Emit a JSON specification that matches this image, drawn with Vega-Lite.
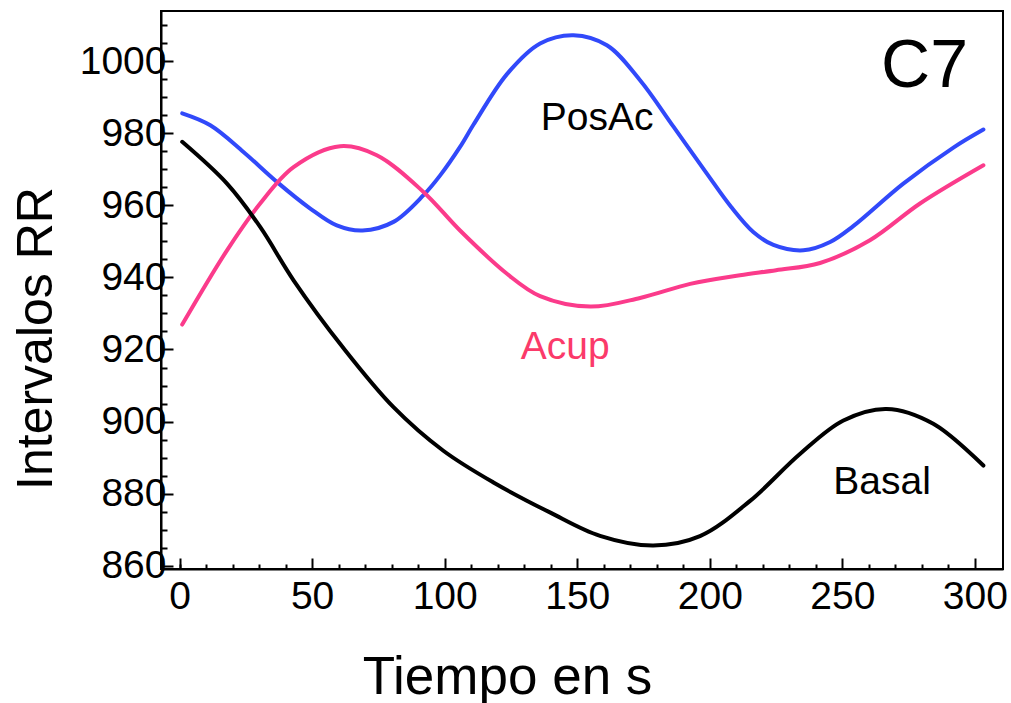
{
  "$schema": "https://vega.github.io/schema/vega-lite/v6.json",
  "width": 842,
  "height": 558,
  "autosize": "none",
  "padding": {"left": 161, "top": 11, "right": 8, "bottom": 134},
  "background": "white",
  "config": {
    "view": {"stroke": "black", "strokeWidth": 2},
    "font": "Liberation Sans",
    "axis": {
      "grid": false,
      "domainColor": "black",
      "domainWidth": 2,
      "tickColor": "black",
      "tickWidth": 2,
      "labelFont": "Liberation Sans",
      "labelFontSize": 39,
      "labelColor": "black",
      "labelOverlap": false,
      "labelFlush": false,
      "titleFont": "Liberation Sans",
      "titleFontSize": 50,
      "titleFontWeight": "normal",
      "titleColor": "black"
    }
  },
  "datasets": {
    "curves": [
      {"t": 1, "rr": 985.5, "serie": "PosAc"},
      {"t": 11.6, "rr": 982.2, "serie": "PosAc"},
      {"t": 24.1, "rr": 974.8, "serie": "PosAc"},
      {"t": 36.7, "rr": 966.5, "serie": "PosAc"},
      {"t": 49.3, "rr": 959.1, "serie": "PosAc"},
      {"t": 59.3, "rr": 954.4, "serie": "PosAc"},
      {"t": 69, "rr": 953.0, "serie": "PosAc"},
      {"t": 80.7, "rr": 955.4, "serie": "PosAc"},
      {"t": 92, "rr": 962.8, "serie": "PosAc"},
      {"t": 98.3, "rr": 968.3, "serie": "PosAc"},
      {"t": 105.8, "rr": 976.2, "serie": "PosAc"},
      {"t": 110.9, "rr": 982.4, "serie": "PosAc"},
      {"t": 123.5, "rr": 996.4, "serie": "PosAc"},
      {"t": 136, "rr": 1004.9, "serie": "PosAc"},
      {"t": 148.6, "rr": 1007.2, "serie": "PosAc"},
      {"t": 161.2, "rr": 1004.4, "serie": "PosAc"},
      {"t": 173.7, "rr": 994.7, "serie": "PosAc"},
      {"t": 186.3, "rr": 981.8, "serie": "PosAc"},
      {"t": 198.9, "rr": 968.8, "serie": "PosAc"},
      {"t": 208, "rr": 959.6, "serie": "PosAc"},
      {"t": 216.4, "rr": 952.6, "serie": "PosAc"},
      {"t": 224, "rr": 949.0, "serie": "PosAc"},
      {"t": 235.3, "rr": 947.5, "serie": "PosAc"},
      {"t": 245.4, "rr": 949.8, "serie": "PosAc"},
      {"t": 254.1, "rr": 954.2, "serie": "PosAc"},
      {"t": 273, "rr": 966.0, "serie": "PosAc"},
      {"t": 291.9, "rr": 976.0, "serie": "PosAc"},
      {"t": 303.2, "rr": 981.0, "serie": "PosAc"},
      {"t": 1, "rr": 926.9, "serie": "Acup"},
      {"t": 17.9, "rr": 947.5, "serie": "Acup"},
      {"t": 30.4, "rr": 960.5, "serie": "Acup"},
      {"t": 43, "rr": 970.6, "serie": "Acup"},
      {"t": 60.6, "rr": 976.4, "serie": "Acup"},
      {"t": 74.4, "rr": 973.9, "serie": "Acup"},
      {"t": 92, "rr": 963.7, "serie": "Acup"},
      {"t": 105.8, "rr": 953.0, "serie": "Acup"},
      {"t": 123.5, "rr": 941.0, "serie": "Acup"},
      {"t": 136, "rr": 934.8, "serie": "Acup"},
      {"t": 154.9, "rr": 931.9, "serie": "Acup"},
      {"t": 173.7, "rr": 934.3, "serie": "Acup"},
      {"t": 192.6, "rr": 938.2, "serie": "Acup"},
      {"t": 211.4, "rr": 940.6, "serie": "Acup"},
      {"t": 225, "rr": 942.0, "serie": "Acup"},
      {"t": 241.6, "rr": 944.0, "serie": "Acup"},
      {"t": 260.4, "rr": 950.3, "serie": "Acup"},
      {"t": 279.3, "rr": 960.5, "serie": "Acup"},
      {"t": 303.2, "rr": 971.1, "serie": "Acup"},
      {"t": 1, "rr": 977.6, "serie": "Basal"},
      {"t": 17.9, "rr": 966.0, "serie": "Basal"},
      {"t": 30.4, "rr": 954.0, "serie": "Basal"},
      {"t": 43, "rr": 939.2, "serie": "Basal"},
      {"t": 61.8, "rr": 920.4, "serie": "Basal"},
      {"t": 80.7, "rr": 904.0, "serie": "Basal"},
      {"t": 99.5, "rr": 891.9, "serie": "Basal"},
      {"t": 118.4, "rr": 883.1, "serie": "Basal"},
      {"t": 139.7, "rr": 874.8, "serie": "Basal"},
      {"t": 158.6, "rr": 868.3, "serie": "Basal"},
      {"t": 178.7, "rr": 865.6, "serie": "Basal"},
      {"t": 196.3, "rr": 868.2, "serie": "Basal"},
      {"t": 215.2, "rr": 878.0, "serie": "Basal"},
      {"t": 234, "rr": 891.0, "serie": "Basal"},
      {"t": 250.4, "rr": 900.3, "serie": "Basal"},
      {"t": 266.7, "rr": 903.5, "serie": "Basal"},
      {"t": 284.3, "rr": 899.4, "serie": "Basal"},
      {"t": 303.2, "rr": 887.8, "serie": "Basal"}
    ],
    "labels": [
      {"label": "PosAc", "t": 157.5, "rr": 984.2},
      {"label": "Acup", "t": 145.5, "rr": 920.6},
      {"label": "Basal", "t": 265, "rr": 883.3},
      {"label": "C7", "t": 281, "rr": 998.3}
    ]
  },
  "layer": [
    {
      "data": {"name": "curves"},
      "mark": {"type": "line", "interpolate": "catmull-rom", "strokeWidth": 4, "strokeCap": "round", "clip": true},
      "encoding": {
        "x": {
          "field": "t", "type": "quantitative",
          "scale": {"domain": [-7, 310.6], "nice": false, "zero": false},
          "axis": {
            "orient": "bottom",
            "title": "Tiempo en s",
            "values": [0, 50, 100, 150, 200, 250, 300],
            "format": "d",
            "tickSize": -11,
            "labelPadding": 19,
            "titleFontSize": 53,
            "titleX": 346,
            "titleY": 124,
            "titleAlign": "center",
            "titleBaseline": "alphabetic"
          }
        },
        "y": {
          "field": "rr", "type": "quantitative",
          "scale": {"domain": [859.1, 1013.9], "nice": false, "zero": false},
          "axis": {
            "orient": "left",
            "title": "Intervalos RR",
            "values": [860, 880, 900, 920, 940, 960, 980, 1000],
            "format": "d",
            "tickSize": -12,
            "labelPadding": 7,
            "titleX": -110,
            "titleY": 327,
            "titleAngle": -90,
            "titleAlign": "center",
            "titleBaseline": "alphabetic"
          }
        },
        "color": {
          "field": "serie", "type": "nominal",
          "scale": {"domain": ["PosAc", "Acup", "Basal"], "range": ["#3149fa", "#fb3b8b", "#000000"]},
          "legend": null
        }
      }
    },
    {
      "data": {"name": "labels"},
      "mark": {"type": "text", "font": "Liberation Sans", "align": "center", "baseline": "middle"},
      "encoding": {
        "x": {
          "field": "t", "type": "quantitative",
          "axis": {
            "orient": "bottom",
            "title": null,
            "labels": false,
            "domain": false,
            "values": [0, 10, 20, 30, 40, 60, 70, 80, 90, 110, 120, 130, 140, 160, 170, 180, 190, 210, 220, 230, 240, 260, 270, 280, 290],
            "tickSize": -5
          }
        },
        "y": {
          "field": "rr", "type": "quantitative",
          "axis": {
            "orient": "left",
            "title": null,
            "labels": false,
            "domain": false,
            "values": [865, 870, 875, 885, 890, 895, 905, 910, 915, 925, 930, 935, 945, 950, 955, 965, 970, 975, 985, 990, 995, 1005, 1010],
            "tickSize": -6
          }
        },
        "text": {"field": "label"},
        "color": {"condition": {"test": "datum.label === 'Acup'", "value": "#fb3a6a"}, "value": "black"},
        "size": {"condition": {"test": "datum.label === 'C7'", "value": 68}, "value": 39}
      }
    }
  ],
  "resolve": {"axis": {"x": "independent", "y": "independent"}}
}
